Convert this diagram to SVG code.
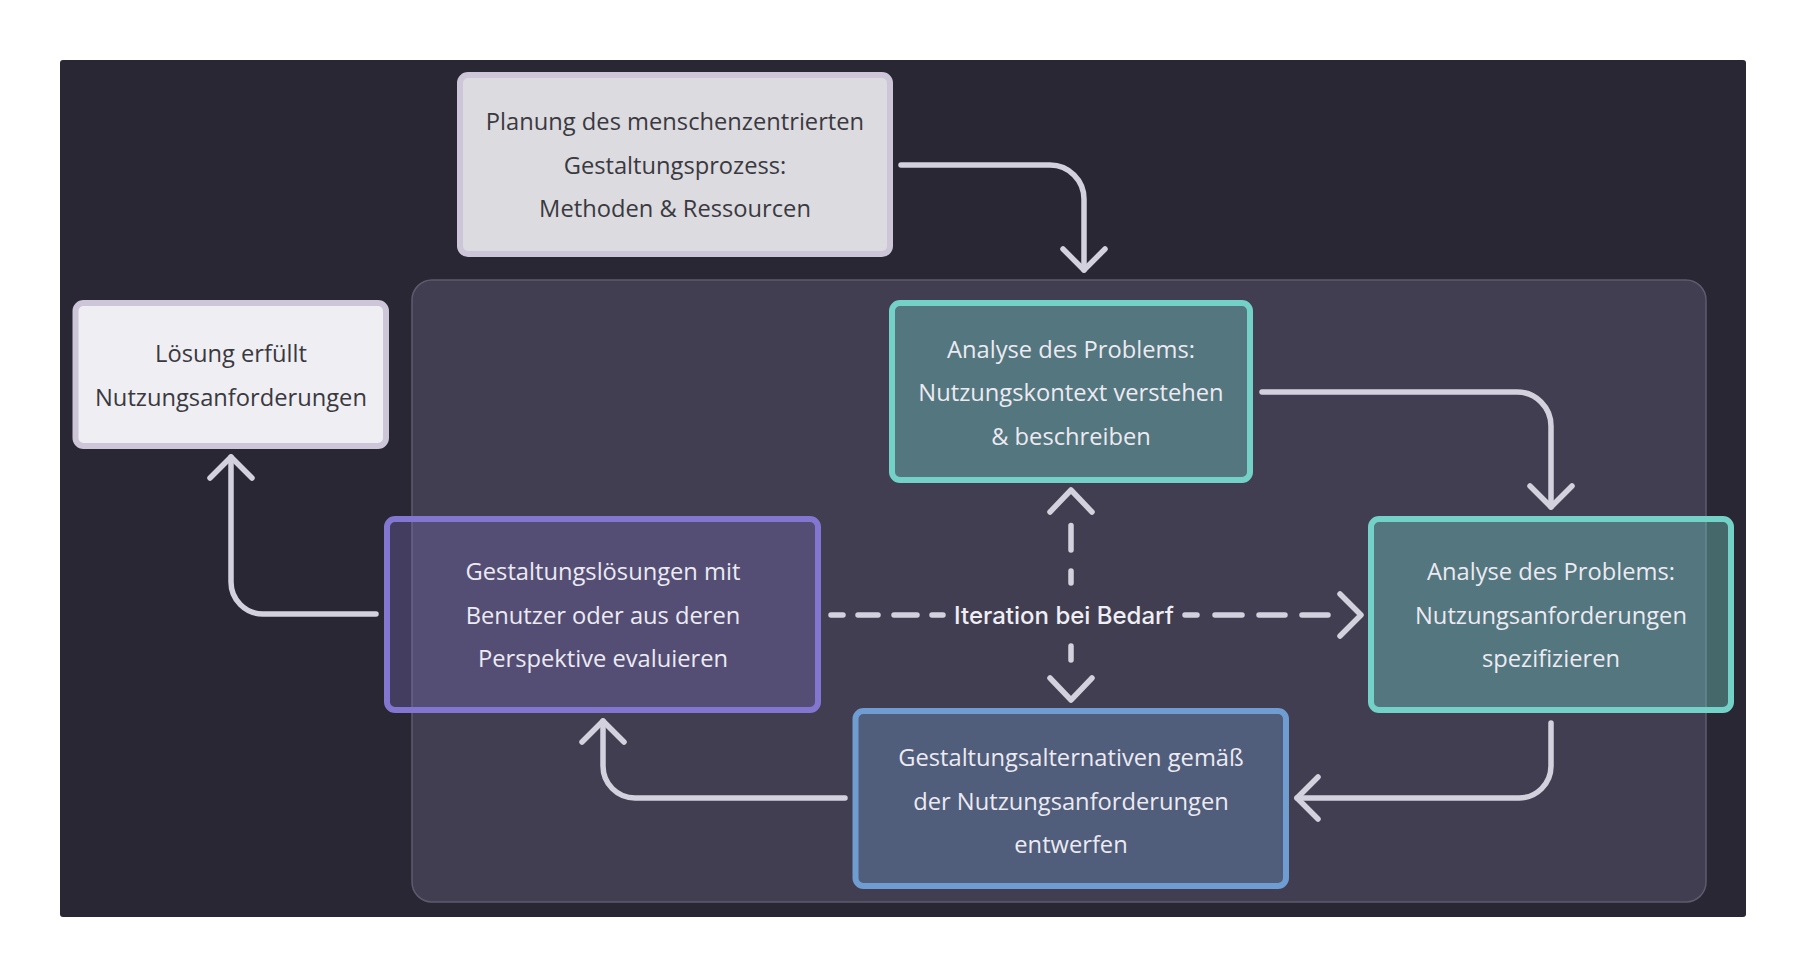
<svg xmlns="http://www.w3.org/2000/svg" width="1806" height="978" viewBox="0 0 1806 978">
  <defs>
    <style>
      .ntext { font-family: "Open Sans", Lato, "Liberation Sans", sans-serif; font-size: 23.7px; font-weight: 400; text-anchor: middle; }
      .dark { fill: #3a3940; }
      .light { fill: #eceaf2; }
      .conn { fill: none; stroke: #d4d1de; stroke-width: 5.5; stroke-linecap: round; stroke-linejoin: round; }
      .lbl { font-family: Inter, Roboto, "Liberation Sans", sans-serif; font-size: 24px; font-weight: 500; fill: #efeef4; text-anchor: middle; }
    </style>
    <marker id="arr" viewBox="-28 -28 34 56" refX="0" refY="0" markerWidth="34" markerHeight="56" markerUnits="userSpaceOnUse" orient="auto">
      <path d="M-21,-21 L0,0 L-21,21" fill="none" stroke="#d4d1de" stroke-width="5.5" stroke-linecap="round" stroke-linejoin="round"/>
    </marker>
  </defs>

  <rect x="0" y="0" width="1806" height="978" fill="#ffffff"/>
  <rect id="canvas" x="60" y="60" width="1686" height="857" rx="3" fill="#292733"/>

  <g id="container">
    <rect x="412" y="280" width="1294" height="622" rx="20" fill="#413e51" stroke="#5e5b6e" stroke-width="1.5"/>
  </g>

  <g id="connectors">
    <path class="conn" d="M901 165 H1050 A34 34 0 0 1 1084 199 V270" marker-end="url(#arr)"/>
    <path class="conn" d="M1262 392 H1517 A34 34 0 0 1 1551 426 V507" marker-end="url(#arr)"/>
    <path class="conn" d="M1551 723 V766 A32 32 0 0 1 1519 798 H1297" marker-end="url(#arr)"/>
    <path class="conn" d="M845 798 H635 A32 32 0 0 1 603 766 V721" marker-end="url(#arr)"/>
    <path class="conn" d="M376 614 H263 A32 32 0 0 1 231 582 V457" marker-end="url(#arr)"/>
    <g id="iteration">
      <path class="conn" d="M831 615 H843 M858 615 H878 M894 615 H917 M932 615 H943 M1185 615 H1197 M1215 615 H1242 M1259 615 H1285 M1302 615 H1328"/>
      <path class="conn" d="M1340 594 L1361 615 L1340 636"/>
      <path class="conn" d="M1071 525.5 V550 M1071 571 V583 M1071 646 V660"/>
      <path class="conn" d="M1050 512 L1071 490 L1092 512"/>
      <path class="conn" d="M1050 678 L1071 700 L1092 678"/>
      <text class="lbl" x="1064" y="624">Iteration bei Bedarf</text>
    </g>
  </g>

  <g id="planung">
    <rect x="460" y="75" width="430" height="179" rx="8" fill="#dcdbe0" stroke="#ccc6d8" stroke-width="6"/>
    <text class="ntext dark" x="675" y="130">Planung des menschenzentrierten</text>
    <text class="ntext dark" x="675" y="173.5">Gestaltungsprozess:</text>
    <text class="ntext dark" x="675" y="217">Methoden &amp; Ressourcen</text>
  </g>

  <g id="loesung">
    <rect x="75.5" y="303" width="310.5" height="143" rx="8" fill="#efeef3" stroke="#ccc6d8" stroke-width="6"/>
    <text class="ntext dark" x="231" y="361.5">Lösung erfüllt</text>
    <text class="ntext dark" x="231" y="405.5">Nutzungsanforderungen</text>
  </g>

  <g id="analyse-kontext">
    <rect x="892" y="303" width="358" height="177" rx="8" fill="#74d1c7" fill-opacity="0.38" stroke="#74d1c7" stroke-width="6"/>
    <text class="ntext light" x="1071" y="358">Analyse des Problems:</text>
    <text class="ntext light" x="1071" y="401">Nutzungskontext verstehen</text>
    <text class="ntext light" x="1071" y="445">&amp; beschreiben</text>
  </g>

  <g id="analyse-anforderungen">
    <rect x="1371" y="519" width="360" height="191" rx="8" fill="#74d1c7" fill-opacity="0.38" stroke="#74d1c7" stroke-width="6"/>
    <text class="ntext light" x="1551" y="580">Analyse des Problems:</text>
    <text class="ntext light" x="1551" y="623.5">Nutzungsanforderungen</text>
    <text class="ntext light" x="1551" y="667">spezifizieren</text>
  </g>

  <g id="evaluieren">
    <rect x="387" y="519" width="431" height="191" rx="8" fill="#8376d0" fill-opacity="0.29" stroke="#8376d0" stroke-width="6"/>
    <text class="ntext light" x="603" y="580">Gestaltungslösungen mit</text>
    <text class="ntext light" x="603" y="623.5">Benutzer oder aus deren</text>
    <text class="ntext light" x="603" y="667">Perspektive evaluieren</text>
  </g>

  <g id="entwerfen">
    <rect x="855.5" y="711" width="430.5" height="175" rx="8" fill="#6f9dd2" fill-opacity="0.33" stroke="#6f9dd2" stroke-width="6"/>
    <text class="ntext light" x="1071" y="766">Gestaltungsalternativen gemäß</text>
    <text class="ntext light" x="1071" y="810">der Nutzungsanforderungen</text>
    <text class="ntext light" x="1071" y="853">entwerfen</text>
  </g>
</svg>
